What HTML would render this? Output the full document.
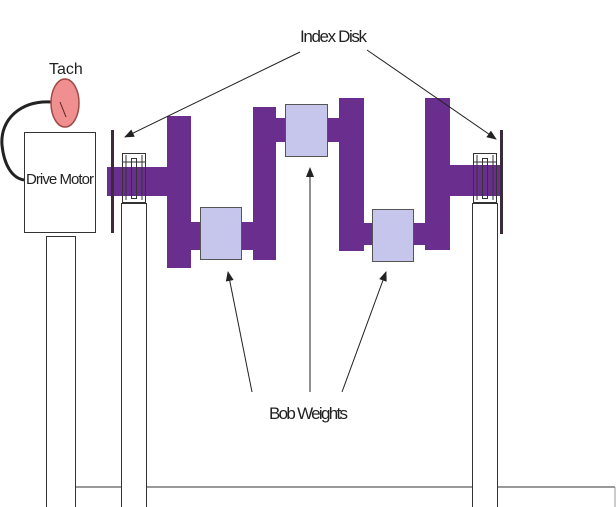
<!DOCTYPE html>
<html><head><style>
html,body{margin:0;padding:0;background:#fff;}
svg{display:block;}
text{font-family:"Liberation Sans",sans-serif;fill:#222;}
</style></head><body>
<svg width="616" height="507" viewBox="0 0 616 507" xmlns="http://www.w3.org/2000/svg">
<defs><marker id="a" markerWidth="10" markerHeight="8" refX="9" refY="4" orient="auto" markerUnits="userSpaceOnUse"><path d="M0,0 L10,4 L0,8 z" fill="#222"/></marker></defs>
<!-- base lines -->
<line x1="75" y1="487" x2="615" y2="487" stroke="#333" stroke-width="1"/>
<line x1="75" y1="487" x2="75" y2="507" stroke="#333"/>
<line x1="615" y1="487" x2="615" y2="507" stroke="#999"/>
<!-- pillars -->
<rect x="46.5" y="236.5" width="29" height="271" fill="#fff" stroke="#333"/>
<rect x="121.5" y="203.5" width="25" height="304" fill="#fff" stroke="#333"/>
<rect x="472.5" y="203.5" width="25" height="304" fill="#fff" stroke="#333"/>
<!-- motor -->
<rect x="24.5" y="132.5" width="71" height="100" fill="#fff" stroke="#333"/>
<text x="26" y="184" font-size="15" textLength="68">Drive Motor</text>
<path d="M52,102 C20,100 0,120 2,145 C4,165 12,178 24,180" fill="none" stroke="#222" stroke-width="3"/>
<ellipse cx="65" cy="103" rx="14" ry="24" fill="#ef8f8f" stroke="#a04848" stroke-width="1.5"/>
<line x1="60" y1="102" x2="66" y2="117" stroke="#5a2020" stroke-width="1"/>
<text x="49" y="74" font-size="16">Tach</text>
<!-- purple crank -->
<g fill="#6a2f8e">
<rect x="107" y="167" width="60" height="29"/>
<rect x="167" y="116" width="24" height="152"/>
<rect x="191" y="222" width="62" height="28"/>
<rect x="253" y="107" width="23" height="153"/>
<rect x="276" y="118" width="63" height="24"/>
<rect x="339" y="98" width="25" height="153"/>
<rect x="364" y="223" width="61" height="22"/>
<rect x="425" y="98" width="25" height="152"/>
<rect x="450" y="165" width="53" height="31"/>
</g>
<rect x="200.5" y="207.5" width="41" height="52" fill="#c6c6ec" stroke="#555"/>
<rect x="285.5" y="104.5" width="42" height="52" fill="#c6c6ec" stroke="#555"/>
<rect x="372.5" y="209.5" width="41" height="52" fill="#c6c6ec" stroke="#555"/>
<!-- bearings -->
<g fill="none" stroke="#333" stroke-width="1">
<rect x="122.5" y="153.5" width="23" height="49"/>
<line x1="126" y1="155" x2="126" y2="200"/><line x1="142" y1="155" x2="142" y2="200"/>
<rect x="131.5" y="158.5" width="5" height="40"/>
<line x1="122" y1="162" x2="146" y2="162"/>
<rect x="473.5" y="153.5" width="23" height="49"/>
<line x1="477" y1="155" x2="477" y2="200"/><line x1="493" y1="155" x2="493" y2="200"/>
<rect x="482.5" y="158.5" width="5" height="40"/>
<line x1="473" y1="162" x2="497" y2="162"/>
</g>
<!-- disks -->
<rect x="111" y="130" width="3" height="103" fill="#3a2a3a"/>
<rect x="500" y="130" width="3" height="104" fill="#3a2a3a"/>
<!-- labels -->
<text x="300" y="42" font-size="17" textLength="67">Index Disk</text>
<line x1="300" y1="52" x2="125" y2="137" stroke="#222" marker-end="url(#a)"/>
<line x1="367" y1="50" x2="496" y2="139" stroke="#222" marker-end="url(#a)"/>
<text x="269" y="419" font-size="17" textLength="79">Bob Weights</text>
<line x1="252" y1="392" x2="228" y2="272" stroke="#222" marker-end="url(#a)"/>
<line x1="310" y1="392" x2="310" y2="168" stroke="#222" marker-end="url(#a)"/>
<line x1="342" y1="392" x2="386" y2="272" stroke="#222" marker-end="url(#a)"/>
</svg>
</body></html>
